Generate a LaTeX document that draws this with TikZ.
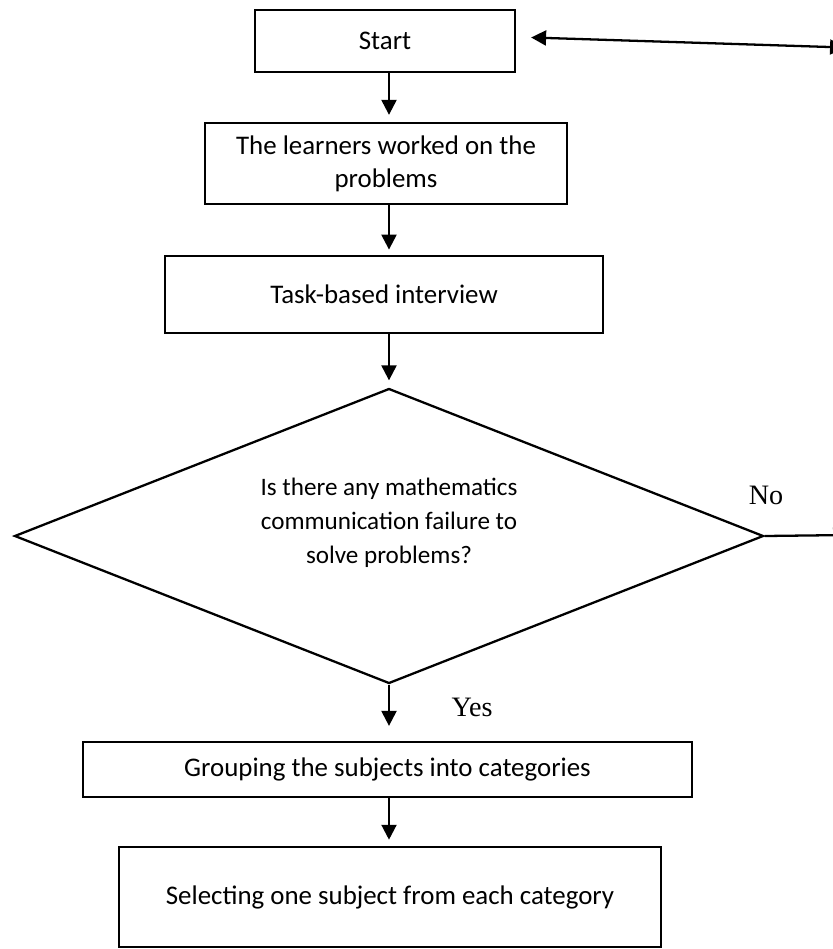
\documentclass[tikz,border=0pt]{standalone}
\usepackage{fontspec}
\setmainfont{Carlito}
\newfontfamily\yn{Liberation Serif}
\usetikzlibrary{shapes.geometric,arrows.meta}
\tikzset{b/.style={draw,line width=1.3pt,inner sep=0pt,align=center,font=\fontsize{15.3}{18.8}\selectfont}}
\tikzset{d/.style={draw,line width=1.3pt,diamond,aspect=2.54,inner sep=0pt}}
\tikzset{t/.style={align=center,inner sep=0pt,font=\fontsize{14.3}{19.3}\selectfont}}
\tikzset{a/.style={line width=1.3pt,-{Triangle[width=8.5pt,length=8.5pt]},shorten >=4pt}}
\tikzset{l/.style={font=\yn\fontsize{16}{19}\selectfont}}

\begin{document}
\begin{tikzpicture}[x=0.2mm,y=-0.2mm]
  \clip (0,0) rectangle (833,949);
  \node[b,minimum width=52mm,minimum height=12.4mm] (start) at (385,41) {Start};
  \node[b,minimum width=72.4mm,minimum height=16.2mm] (learn) at (386,163.5)
    {The learners worked on the\\problems};
  \node[b,minimum width=87.6mm,minimum height=15.4mm] (task) at (384,294.5)
    {Task-based interview};
  \node[d,minimum width=149.8mm,minimum height=59mm] (dec) at (389,536) {};
  \node[t] (q) at (389,523)
    {Is there any mathematics\\communication failure to\\solve problems?};
  \node[b,minimum width=121.8mm,minimum height=11mm] (group) at (387.5,769.5)
    {Grouping the subjects into categories};
  \node[b,minimum width=108.4mm,minimum height=20mm] (select) at (390,897)
    {Selecting one subject from each category};
  \node[l] (no) at (766,495) {No};
  \node[l] (yes) at (472,707) {Yes};
  \coordinate (tr) at (845,47.5);
  \coordinate (nr) at (848,535);

  \draw[a] (start.south -| dec.north) -- (learn.north -| dec.north);
  \draw[a,shorten >=3pt] (learn.south -| dec.north) -- (task.north -| dec.north);
  \draw[a] (task.south -| dec.north) -- (dec.north);
  \draw[a,shorten >=3mm] (dec.south) -- (group.north -| dec.south);
  \draw[a,shorten >=3.5pt] (group.south -| dec.south) -- (select.north -| dec.south);
  \draw[a,shorten >=0pt] (dec.east) -- (nr);
  \draw[a,{Triangle[width=8.5pt,length=8.5pt]}-{Triangle[width=8.5pt,length=8.5pt]},shorten >=0pt,shorten <=3mm]
    ([yshift=0.8mm]start.east) -- (tr);
\end{tikzpicture}
\end{document}
